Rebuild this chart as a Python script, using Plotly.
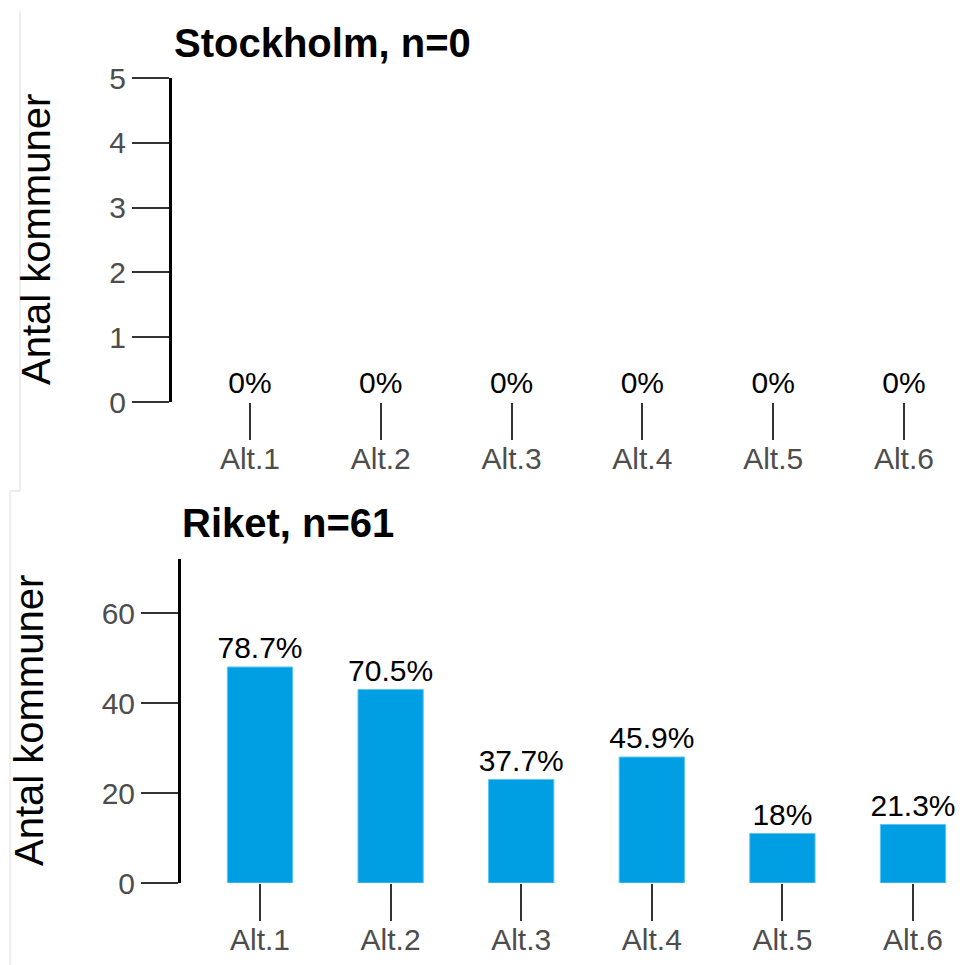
import plotly.graph_objects as go

# ---- data ----
categories = ["Alt.1", "Alt.2", "Alt.3", "Alt.4", "Alt.5", "Alt.6"]
stockholm_counts = [0, 0, 0, 0, 0, 0]
stockholm_labels = ["0%", "0%", "0%", "0%", "0%", "0%"]
riket_counts = [48, 43, 23, 28, 11, 13]
riket_labels = ["78.7%", "70.5%", "37.7%", "45.9%", "18%", "21.3%"]
stockholm_title = "Stockholm, n=0"
riket_title = "Riket, n=61"
y_title = "Antal kommuner"

# the page body has an 8px margin, so the figure is drawn 8px in from the top-left
OFF = 8
W, H = 976 - OFF, 965 - OFF
FONT = "Liberation Sans, Arial, sans-serif"
BAR = "#009FE3"

def px_x(p):
    return (p - OFF) / W

def px_y(p):
    return (H - (p - OFF)) / H

fig = go.Figure()

fig.add_trace(go.Bar(
    x=list(range(len(categories))), y=stockholm_counts, text=stockholm_labels,
    textposition="outside", constraintext="none", width=0.5, cliponaxis=False,
    marker=dict(color=BAR, line=dict(width=0)),
    textfont=dict(family=FONT, size=30, color="#000000"),
    xaxis="x", yaxis="y", showlegend=False, hoverinfo="skip"))

fig.add_trace(go.Bar(
    x=list(range(len(categories))), y=riket_counts, text=riket_labels,
    textposition="outside", constraintext="none", width=0.5, cliponaxis=False,
    marker=dict(color=BAR, line=dict(color="#5cc6f2", width=1)),
    textfont=dict(family=FONT, size=30, color="#000000"),
    xaxis="x2", yaxis="y2", showlegend=False, hoverinfo="skip"))

common_x = dict(
    tickmode="array", tickvals=list(range(len(categories))), ticktext=categories,
    showline=False, showgrid=False, zeroline=False, automargin=False,
    ticks="outside", ticklen=37, tickwidth=2, tickcolor="#333333",
    ticklabelstandoff=-7,
    tickfont=dict(family=FONT, size=30, color="#4d4d4d"),
)
common_y = dict(
    showline=True, linewidth=3, linecolor="#000000", mirror=False,
    showgrid=False, zeroline=False, automargin=False,
    ticks="outside", ticklen=37, tickwidth=2, tickcolor="#333333",
    tickfont=dict(family=FONT, size=30, color="#4d4d4d"),
)

x_top_left, x_bot_left = 172, 181
fig.update_layout(
    template="none",
    width=W, height=H, autosize=False,
    margin=dict(l=0, r=0, t=0, b=0, pad=0),
    paper_bgcolor="white", plot_bgcolor="white",
    font=dict(family=FONT),
    bargap=0.5,
    xaxis=dict(domain=[px_x(x_top_left), 1.0], range=[-0.596, -0.596 + (976 - x_top_left) / 130.8],
               anchor="y", **common_x),
    yaxis=dict(domain=[px_y(402), px_y(78)], range=[0, 5], dtick=1, anchor="x", **common_y),
    xaxis2=dict(domain=[px_x(x_bot_left), 1.0], range=[-0.605, -0.605 + (976 - x_bot_left) / 130.6],
                anchor="y2", **common_x),
    yaxis2=dict(domain=[px_y(883), px_y(559)], range=[0, 72], tickvals=[0, 20, 40, 60], anchor="x2", **common_y),
)

annotations = [
    dict(text="<b>" + stockholm_title + "</b>", x=px_x(172), y=px_y(43), xref="paper", yref="paper",
         xanchor="left", yanchor="middle", showarrow=False,
         font=dict(family=FONT, size=40, color="#000000")),
    dict(text="<b>" + riket_title + "</b>", x=px_x(180), y=px_y(523), xref="paper", yref="paper",
         xanchor="left", yanchor="middle", showarrow=False,
         font=dict(family=FONT, size=40, color="#000000")),
    dict(text=y_title, x=px_x(36), y=px_y(240), xref="paper", yref="paper",
         xanchor="center", yanchor="middle", textangle=-90, showarrow=False,
         font=dict(family=FONT, size=40, color="#000000")),
    dict(text=y_title, x=px_x(29), y=px_y(721), xref="paper", yref="paper",
         xanchor="center", yanchor="middle", textangle=-90, showarrow=False,
         font=dict(family=FONT, size=40, color="#000000")),
]
fig.update_layout(annotations=annotations)

# faint panel borders from the original composite image
border = dict(color="#dddddd", width=1)
fig.add_shape(type="line", xref="paper", yref="paper", x0=px_x(20), x1=px_x(20), y0=px_y(11), y1=px_y(491), line=border)
fig.add_shape(type="line", xref="paper", yref="paper", x0=px_x(10), x1=px_x(20), y0=px_y(491), y1=px_y(491), line=border)
fig.add_shape(type="line", xref="paper", yref="paper", x0=px_x(10), x1=px_x(10), y0=px_y(491), y1=px_y(965), line=border)

fig.write_html("out.html")
